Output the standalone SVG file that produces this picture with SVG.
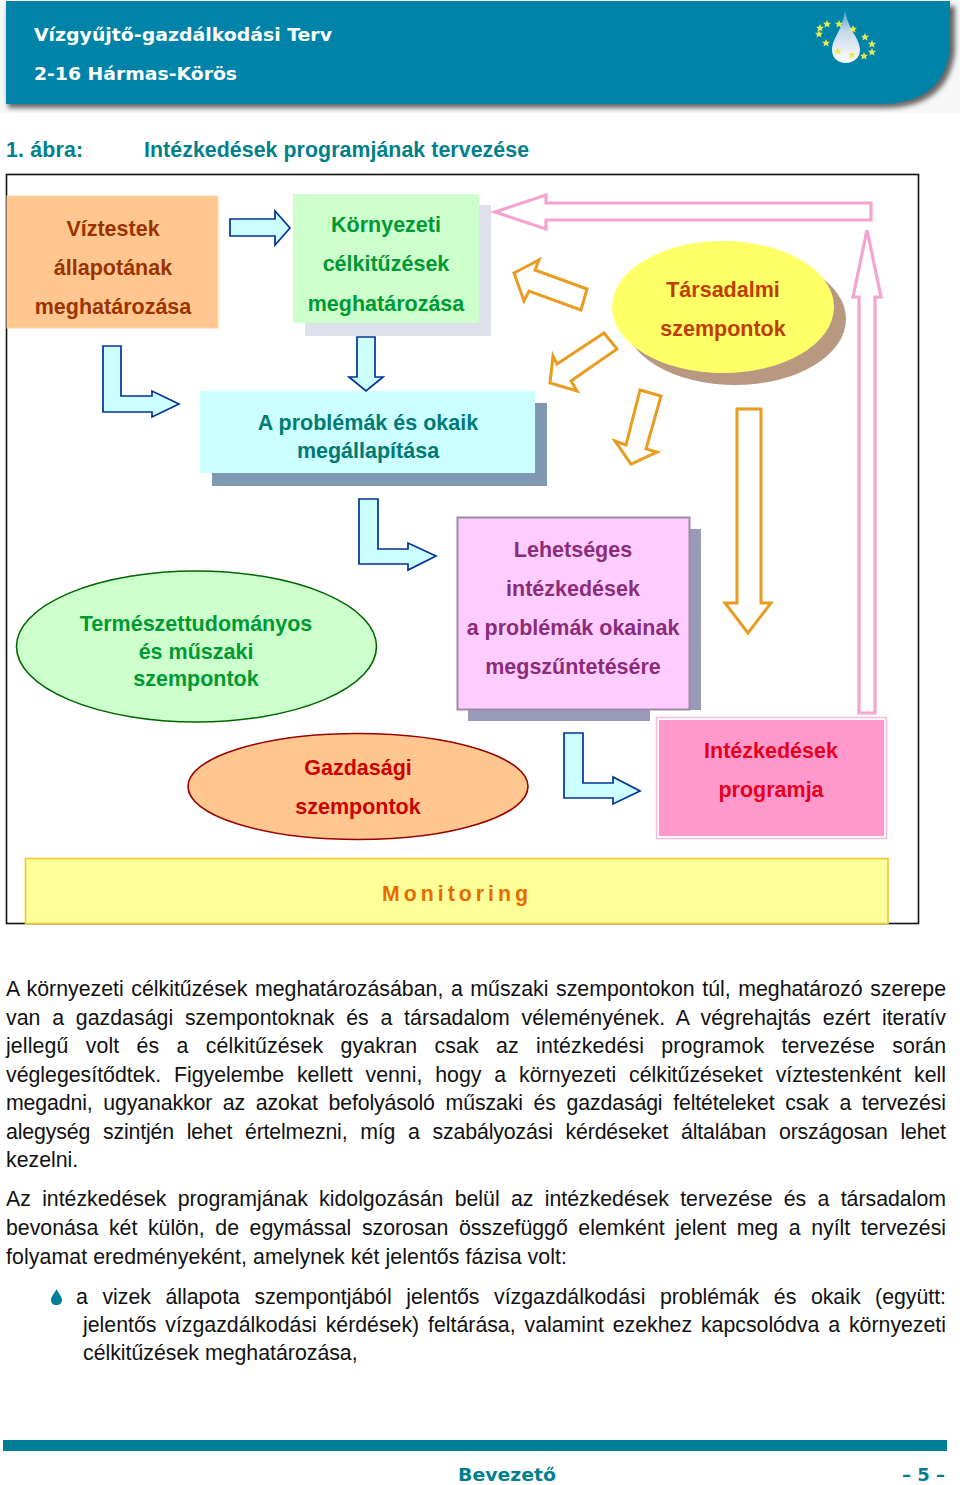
<svg xmlns="http://www.w3.org/2000/svg" width="960" height="1485" viewBox="0 0 960 1485">
<style>
text{font-family:"Liberation Sans",Arial,sans-serif}
.lbl{font-size:21.5px;font-weight:700;text-anchor:middle}
.body{font-size:21.3px;fill:#111}
.head{font-family:"DejaVu Sans",Verdana,sans-serif;font-size:18px;font-weight:700}
.blue{fill:#ccffff;stroke:#003399;stroke-width:1.7}
.pink{fill:#fff;stroke:#f5a3cf;stroke-width:3.2}
.or{fill:#fff;stroke:#e89c20;stroke-width:3}
.star{fill:#e6ea55}
</style>
<defs>
<filter id="b" x="-5%" y="-20%" width="110%" height="140%"><feGaussianBlur stdDeviation="2.5"/></filter>
<linearGradient id="drop" x1="0" y1="0" x2="0" y2="1"><stop offset="0" stop-color="#3f9dc2"/><stop offset=".4" stop-color="#c4d8ea"/><stop offset=".75" stop-color="#e8edf7"/><stop offset="1" stop-color="#ffffff"/></linearGradient>
<polygon id="s" points="0,-4 1.200,-1.300 4,-1.200 1.900,.7 2.600,3.400 0,2 -2.600,3.400 -1.900,.7 -4,-1.200 -1.200,-1.300"/>
</defs>
<rect width="960" height="1485" fill="#fff"/>
<g id="header">
<rect x="0" y="0" width="960" height="113" fill="#f7f7f7"/>
<path d="M8 6H955V52Q948 108 884 108H8Z" fill="#666" filter="url(#b)"/>
<path d="M6 1H950V50Q942 104 880 104H6Z" fill="#0083a9"/>
<text class="head" x="34" y="41" fill="#fff" textLength="298" lengthAdjust="spacingAndGlyphs">Vízgyűjtő-gazdálkodási Terv</text>
<text class="head" x="34" y="80" fill="#fff" textLength="203" lengthAdjust="spacingAndGlyphs">2-16 Hármas-Körös</text>
<path d="M845 10C848 30 860 38 860 50C860 58 853 63 846 63C838 63 832 58 832 50C832 38 843 30 845 10Z" fill="url(#drop)"/>
<g class="star"><use href="#s" x="820" y="28"/><use href="#s" x="827" y="24"/><use href="#s" x="839" y="24"/><use href="#s" x="853" y="29"/><use href="#s" x="865" y="37"/><use href="#s" x="872" y="44"/><use href="#s" x="872" y="52"/><use href="#s" x="864" y="56"/><use href="#s" x="852" y="55"/><use href="#s" x="838" y="51"/><use href="#s" x="826" y="43"/><use href="#s" x="819" y="34"/></g>
</g>
<text id="title1" x="6" y="157" font-size="21.3" font-weight="700" fill="#007f8c" textLength="77">1. ábra:</text>
<text id="title2" x="144" y="157" font-size="21.3" font-weight="700" fill="#007f8c" textLength="385">Intézkedések programjának tervezése</text>
<rect id="frame" x="6.500" y="174.500" width="912" height="749" fill="#fff" stroke="#111" stroke-width="1.600"/>

<g id="viztestek"><rect x="7" y="196" width="211" height="132" fill="#ffc78f" stroke="#ffd8a8"/>
<g class="lbl" fill="#993300"><text x="113" y="236">Víztestek</text><text x="113" y="275">állapotának</text><text x="113" y="314">meghatározása</text></g></g>
<g id="kornyezeti"><rect x="305" y="205" width="186" height="131" fill="#dee0eb"/><rect x="293" y="194" width="186" height="129" fill="#ccffcc"/>
<g class="lbl" fill="#009933"><text x="386" y="232">Környezeti</text><text x="386" y="271">célkitűzések</text><text x="386" y="311">meghatározása</text></g></g>
<g id="tarsadalmi"><ellipse cx="735" cy="319" rx="111" ry="66" fill="#b89880"/><ellipse cx="723" cy="307" rx="111" ry="66" fill="#ffff66"/>
<g class="lbl" fill="#c03c00"><text x="723" y="297">Társadalmi</text><text x="723" y="336">szempontok</text></g></g>
<g id="problemak"><rect x="212" y="403" width="335" height="83" fill="#8099b3"/><rect x="200" y="391" width="335" height="82" fill="#ccffff"/>
<g class="lbl" fill="#007a73"><text x="368" y="430">A problémák és okaik</text><text x="368" y="458">megállapítása</text></g></g>
<g id="lehetseges"><rect x="468" y="529" width="233" height="181" fill="#9999b8"/><rect x="468" y="700" width="182" height="21" fill="#9999b8"/><rect x="457.500" y="517.500" width="232" height="192" fill="#ffccff" stroke="#a088a8" stroke-width="2"/>
<g class="lbl" fill="#8a2c78"><text x="573" y="557">Lehetséges</text><text x="573" y="596">intézkedések</text><text x="573" y="635">a problémák okainak</text><text x="573" y="674">megszűntetésére</text></g></g>
<g id="termeszet"><ellipse cx="196.500" cy="646.500" rx="180" ry="75.500" fill="#ccffcc" stroke="#006600" stroke-width="1.600"/>
<g class="lbl" fill="#009933"><text x="196" y="631">Természettudományos</text><text x="196" y="659">és műszaki</text><text x="196" y="686">szempontok</text></g></g>
<g id="gazdasagi"><ellipse cx="358" cy="786.500" rx="170" ry="53" fill="#ffc78f" stroke="#990000" stroke-width="1.600"/>
<g class="lbl" fill="#cc0000"><text x="358" y="775">Gazdasági</text><text x="358" y="814">szempontok</text></g></g>
<g id="programja"><rect x="656.500" y="717.500" width="230" height="121" fill="#fff" stroke="#f9bbdd" stroke-width="1.500"/><rect x="659" y="720" width="225" height="116" fill="#ff99cc"/>
<g class="lbl" fill="#e6001e"><text x="771" y="758">Intézkedések</text><text x="771" y="797">programja</text></g></g>
<g id="monitoring"><rect x="25.500" y="858.500" width="862.500" height="65" fill="#ffff99" stroke="#eec82e" stroke-width="1.600"/>
<text x="382" y="901" font-size="21.300" font-weight="700" fill="#e66c00" letter-spacing="4">Monitoring</text></g>

<g id="connectors">
<polygon class="blue" points="230,219 275,219 275,211 290,228 275,245 275,236 230,236"/>
<polygon class="blue" points="103,346 121,346 121,396 152,396 152,391 179,404 152,417 152,412 103,412"/>
<polygon class="blue" points="357,337 375,337 375,377 383,377 366,391 349,377 357,377"/>
<polygon class="blue" points="359,499 378,499 378,549 408,549 408,543 436,556 408,570 408,564 359,564"/>
<polygon class="blue" points="564,733 583,733 583,783 613,783 613,777 640,791 613,804 613,798 564,798"/>
<polygon class="pink" points="495,212 546,195 546,203 871,203 871,220 546,220 546,229"/>
<polygon class="pink" points="867,230 881,297 875,297 875,713 859,713 859,297 853,297"/>
<polygon class="or" points="514,273 539,260 535,270 587,289 581,310 529,291 524,301"/>
<polygon class="or" points="550,383 553,356 557,364 604,333 617,349 571,381 577,391"/>
<polygon class="or" points="640,390 661,396 646,449 657,452 631,464 615,441 626,445"/>
<polygon class="or" points="737,409 761,409 761,603 771,603 748,633 725,603 737,603"/>
</g>

<g id="text">
<text class="body" x="6" y="996" word-spacing="1.600" textLength="940">A környezeti célkitűzések meghatározásában, a műszaki szempontokon túl, meghatározó szerepe</text>
<text class="body" x="6" y="1024.600" word-spacing="5.800" textLength="940">van a gazdasági szempontoknak és a társadalom véleményének. A végrehajtás ezért iteratív</text>
<text class="body" x="6" y="1053" word-spacing="11.200" textLength="940">jellegű volt és a célkitűzések gyakran csak az intézkedési programok tervezése során</text>
<text class="body" x="6" y="1081.700" word-spacing="7" textLength="940">véglegesítődtek. Figyelembe kellett venni, hogy a környezeti célkitűzéseket víztestenként kell</text>
<text class="body" x="6" y="1110" word-spacing="5" textLength="940">megadni, ugyanakkor az azokat befolyásoló műszaki és gazdasági feltételeket csak a tervezési</text>
<text class="body" x="6" y="1138.700" word-spacing="7" textLength="940">alegység szintjén lehet értelmezni, míg a szabályozási kérdéseket általában országosan lehet</text>
<text class="body" x="6" y="1167">kezelni.</text>
<text class="body" x="6" y="1206" word-spacing="5.400" textLength="940">Az intézkedések programjának kidolgozásán belül az intézkedések tervezése és a társadalom</text>
<text class="body" x="6" y="1235" word-spacing="4.700" textLength="940">bevonása két külön, de egymással szorosan összefüggő elemként jelent meg a nyílt tervezési</text>
<text class="body" x="6" y="1263.600" textLength="561">folyamat eredményeként, amelynek két jelentős fázisa volt:</text>
<path d="M56.500 1289C58 1293 62 1296 62 1300C62 1303 60 1305 56.500 1305C53 1305 51 1303 51 1300C51 1296 55 1293 56.500 1289Z" fill="#007f96"/>
<text class="body" x="76" y="1303.500" word-spacing="8.700" textLength="870">a vizek állapota szempontjából jelentős vízgazdálkodási problémák és okaik (együtt:</text>
<text class="body" x="83" y="1332" word-spacing="3" textLength="863">jelentős vízgazdálkodási kérdések) feltárása, valamint ezekhez kapcsolódva a környezeti</text>
<text class="body" x="83" y="1360">célkitűzések meghatározása,</text>
</g>
<g id="footer">
<rect x="3" y="1440" width="944" height="11" fill="#007f96"/>
<text class="head" x="458" y="1481" fill="#007f8f" textLength="98" lengthAdjust="spacingAndGlyphs">Bevezető</text>
<text class="head" x="945" y="1481" fill="#007f8f" text-anchor="end">– 5 –</text>
</g>
</svg>
